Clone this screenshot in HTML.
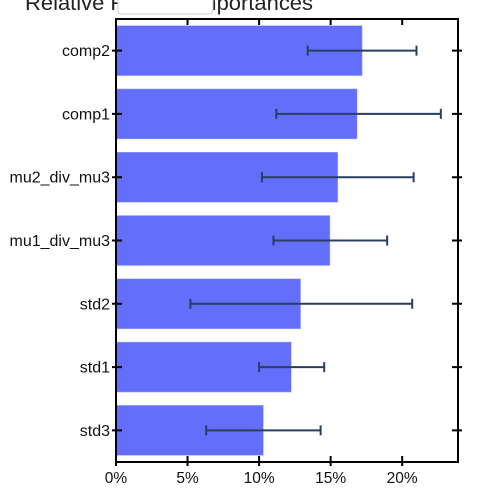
<!DOCTYPE html>
<html><head><meta charset="utf-8"><style>
html,body{margin:0;padding:0;background:#fff;}
svg{display:block;font-family:"Liberation Sans",Arial,sans-serif;}
</style></head><body>
<svg id="chart" width="497" height="497">
<text x="25" y="10" font-size="21" textLength="288" lengthAdjust="spacingAndGlyphs" fill="#222">Relative Feature Importances</text>
<rect x="118" y="-6" width="95" height="20" rx="3" fill="#fff" stroke="#c8ccd8"/>
<g id="plot"></g>
</svg>
<script>
const categories=["comp2","comp1","mu2_div_mu3","mu1_div_mu3","std2","std1","std3"];
const values=[17.2,16.85,15.5,14.95,12.9,12.25,10.3];
const errLow=[13.4,11.2,10.2,11.0,5.2,10.0,6.3];
const errHigh=[21.0,22.7,20.8,18.95,20.7,14.55,14.3];
const xTicks=[0,5,10,15,20];
const xTickLabels=["0%","5%","10%","15%","20%"];
const L=116,R=458,T=19,B=462,XMAX=23.9;
const NS="http://www.w3.org/2000/svg";
const g=document.getElementById('plot');
const x=v=>L+(v/XMAX)*(R-L);
const band=(B-T)/categories.length;
const y=i=>T+band*(i+0.5);
function mk(t,a){const e=document.createElementNS(NS,t);for(const k in a)e.setAttribute(k,a[k]);g.appendChild(e);return e;}
categories.forEach((c,i)=>{
  const cy=y(i);
  const b=mk('rect',{x:L,y:cy-25,width:x(values[i])-L,height:50,fill:'#636efa',stroke:'#a9b0f5','stroke-width':0.5});
  
  
  const e=mk('path',{d:`M${x(errLow[i])},${cy}H${x(errHigh[i])}M${x(errLow[i])},${cy-5}V${cy+5}M${x(errHigh[i])},${cy-5}V${cy+5}`,stroke:'#2a3f5f','stroke-width':2,fill:'none'});
  
  
  const t=mk('text',{x:L-6,y:cy+5.5,'text-anchor':'end','font-size':16,fill:'#111'});
  t.textContent=c;
  
  
  const tk=mk('path',{d:`M${L-4},${cy}H${L+6}M${R-6},${cy}H${R+4}`,stroke:'#000','stroke-width':2});
  
  
});
xTicks.forEach((v,i)=>{
  const tk=mk('path',{d:`M${x(v)},${T}V${T+6}M${x(v)},${B-6}V${B+4}`,stroke:'#000','stroke-width':2});
  
  
  const t=mk('text',{x:x(v),y:B+21,'text-anchor':'middle','font-size':15.5,fill:'#111'});
  t.textContent=xTickLabels[i];
  
  
});
const f=mk('rect',{x:L,y:T,width:R-L,height:B-T,fill:'none',stroke:'#000','stroke-width':2});


</script>
</body></html>
